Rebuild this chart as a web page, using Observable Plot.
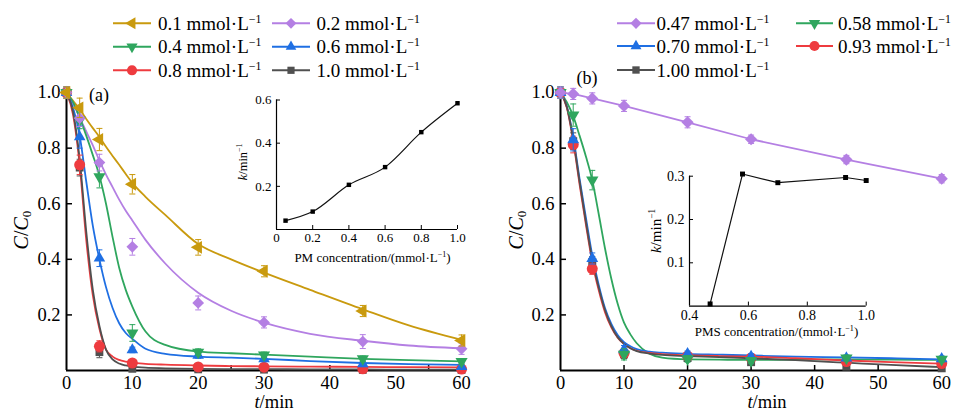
<!DOCTYPE html>
<html>
<head>
<meta charset="utf-8">
<script src="https://cdn.jsdelivr.net/npm/d3@7"></script>
<script src="https://cdn.jsdelivr.net/npm/@observablehq/plot@0.6"></script>
<style>
  body { margin: 0; background: #fff; }
  #chart { position: relative; width: 953px; height: 412px; background: #fff; overflow: hidden;
           font-family: "Liberation Serif", "Times New Roman", serif; color: #000; }
  #chart svg { position: absolute; left: 0; top: 0; }
  .lbl { position: absolute; white-space: nowrap; }
  .ctr { transform: translate(-50%, -50%); line-height: 1; }
  .rot { transform: translate(-50%, -50%) rotate(-90deg); line-height: 1; }
  sup { font-size: 0.62em; vertical-align: 0.6em; line-height: 0; }
  sub { font-size: 0.65em; vertical-align: -0.25em; line-height: 0; }
</style>
</head>
<body>
<div id="chart"></div>
<script>
// ---------- sampling times (min) ----------
const times = [0, 2, 5, 10, 20, 30, 45, 60];

// ---------- panel (a): PM dosage, measured C/C0 and error bars ----------
const pmLabels = ["0.1", "0.2", "0.4", "0.6", "0.8", "1.0"];
const a01 = [1.0, 0.945, 0.831, 0.67, 0.443, 0.357, 0.214, 0.108];
const a01Err = [0.02, 0.035, 0.04, 0.035, 0.028, 0.02, 0.02, 0.02];
const a02 = [1.0, 0.908, 0.748, 0.445, 0.243, 0.173, 0.104, 0.078];
const a02Err = [0.02, 0.03, 0.03, 0.03, 0.025, 0.02, 0.025, 0.02];
const a04 = [1.0, 0.9, 0.697, 0.135, 0.066, 0.056, 0.042, 0.032];
const a04Err = [0.02, 0.03, 0.04, 0.03, 0.012, 0.01, 0.01, 0.01];
const a06 = [1.0, 0.84, 0.404, 0.074, 0.054, 0.042, 0.024, 0.014];
const a06Err = [0.02, 0.04, 0.03, 0.01, 0.01, 0.01, 0.01, 0.01];
const a08 = [1.0, 0.74, 0.087, 0.027, 0.013, 0.012, 0.006, 0.005];
const a08Err = [0.02, 0.035, 0.02, 0.01, 0.01, 0.01, 0.01, 0.01];
const a10 = [1.0, 0.73, 0.066, 0.006, 0.004, 0.003, 0.002, 0.002];
const a10Err = [0.02, 0.03, 0.02, 0.01, 0.01, 0.01, 0.01, 0.01];

// fitted curves, panel (a)
const fitTimesA = [0, 1, 2, 3, 4, 5, 6, 7, 8, 9, 10, 12, 15, 20, 25, 30, 37, 45, 52, 60];
const a01Fit = [1, 0.97, 0.94, 0.905, 0.872, 0.84, 0.805, 0.772, 0.74, 0.707, 0.675, 0.625, 0.56, 0.455, 0.4, 0.352, 0.29, 0.22, 0.162, 0.11];
const a02Fit = [1, 0.96, 0.91, 0.86, 0.81, 0.755, 0.705, 0.66, 0.615, 0.575, 0.54, 0.47, 0.385, 0.28, 0.215, 0.172, 0.132, 0.107, 0.09, 0.08];
const a04Fit = [1, 0.965, 0.91, 0.845, 0.775, 0.7, 0.6, 0.48, 0.37, 0.29, 0.23, 0.14, 0.092, 0.068, 0.062, 0.057, 0.05, 0.042, 0.037, 0.033];
const a06Fit = [1, 0.945, 0.845, 0.68, 0.52, 0.4, 0.3, 0.225, 0.17, 0.135, 0.114, 0.078, 0.06, 0.05, 0.046, 0.042, 0.034, 0.027, 0.023, 0.02];
const a08Fit = [1, 0.92, 0.74, 0.47, 0.27, 0.15, 0.075, 0.05, 0.038, 0.032, 0.028, 0.024, 0.021, 0.018, 0.016, 0.015, 0.014, 0.013, 0.012, 0.011];
const a10Fit = [1, 0.93, 0.76, 0.5, 0.29, 0.16, 0.075, 0.04, 0.025, 0.018, 0.014, 0.01, 0.008, 0.006, 0.005, 0.005, 0.004, 0.004, 0.003, 0.003];

// inset (a): rate constant vs PM concentration
const pmConc = [0.05, 0.2, 0.4, 0.6, 0.8, 1.0];
const pmK = [0.041, 0.083, 0.207, 0.289, 0.451, 0.585];

// ---------- panel (b): PMS dosage ----------
const pmsLabels = ["0.47", "0.58", "0.70", "0.93", "1.00"];
const b047 = [1.0, 0.995, 0.979, 0.952, 0.893, 0.832, 0.759, 0.69];
const b047Err = [0.02, 0.02, 0.02, 0.02, 0.02, 0.015, 0.015, 0.015];
const b058 = [1.0, 0.919, 0.685, 0.058, 0.042, 0.036, 0.045, 0.04];
const b058Err = [0.02, 0.04, 0.035, 0.02, 0.012, 0.01, 0.01, 0.01];
const b070 = [1.0, 0.83, 0.403, 0.075, 0.06, 0.05, 0.045, 0.042];
const b070Err = [0.02, 0.04, 0.02, 0.015, 0.01, 0.01, 0.01, 0.01];
const b093 = [1.0, 0.813, 0.366, 0.062, 0.052, 0.045, 0.032, 0.025];
const b093Err = [0.02, 0.03, 0.02, 0.015, 0.01, 0.01, 0.01, 0.01];
const b100 = [1.0, 0.825, 0.39, 0.058, 0.045, 0.03, 0.014, 0.008];
const b100Err = [0.02, 0.03, 0.02, 0.015, 0.01, 0.01, 0.01, 0.01];

// fitted curves, panel (b)
const fitTimesB = [0, 1, 2, 3, 4, 5, 6, 7, 8, 9, 10, 11, 12, 14, 16, 20, 25, 30, 37, 45, 52, 60];
const b058Fit = [1, 0.965, 0.915, 0.845, 0.77, 0.685, 0.565, 0.44, 0.33, 0.24, 0.172, 0.13, 0.098, 0.06, 0.046, 0.04, 0.039, 0.038, 0.039, 0.04, 0.039, 0.038];
const b070Fit = [1, 0.95, 0.84, 0.69, 0.55, 0.414, 0.31, 0.225, 0.168, 0.128, 0.102, 0.087, 0.077, 0.068, 0.064, 0.06, 0.057, 0.054, 0.05, 0.047, 0.044, 0.04];
const b093Fit = [1, 0.945, 0.825, 0.67, 0.525, 0.39, 0.29, 0.21, 0.155, 0.118, 0.095, 0.08, 0.071, 0.063, 0.059, 0.055, 0.052, 0.05, 0.044, 0.036, 0.03, 0.025];
const b100Fit = [1, 0.948, 0.832, 0.68, 0.535, 0.4, 0.3, 0.218, 0.16, 0.12, 0.096, 0.08, 0.07, 0.061, 0.056, 0.052, 0.048, 0.044, 0.037, 0.028, 0.02, 0.012];

// inset (b): rate constant vs PMS concentration
const pmsConc = [0.47, 0.58, 0.70, 0.93, 1.00];
const pmsK = [0.005, 0.305, 0.285, 0.297, 0.29];

// ---------- axis tick values ----------
const yTickLabels = [0.2, 0.4, 0.6, 0.8, 1.0];
const xTickLabels = [0, 10, 20, 30, 40, 50, 60];
const xTicksA = [10, 25, 40, 55];
const xTicksB = [10, 20, 30, 40, 50, 60];
const insetAXLabels = [0, 0.2, 0.4, 0.6, 0.8, 1.0];
const insetAYLabels = [0.2, 0.4, 0.6];
const insetBXLabels = [0.4, 0.6, 0.8, 1.0];
const insetBYLabels = [0.1, 0.2, 0.3];

// ---------- style ----------
const gold = "#C99A0E", purple = "#B47FE3", green = "#2FA65E", blue = "#1F6FE3", red = "#EE3B3F", dark = "#505050";
const FONT = '"Liberation Serif", "Times New Roman", serif';
const W = 953, H = 412;

// marker shapes (same geometry as d3.symbolTriangle, rotated)
const S3 = Math.sqrt(3);
const triLeft = { draw(ctx, size) { const a = Math.sqrt(size / (S3 * 3)); ctx.moveTo(-2 * a, 0); ctx.lineTo(a, -S3 * a); ctx.lineTo(a, S3 * a); ctx.closePath(); } };
const triDown = { draw(ctx, size) { const a = Math.sqrt(size / (S3 * 3)); ctx.moveTo(0, 2 * a); ctx.lineTo(-S3 * a, -a); ctx.lineTo(S3 * a, -a); ctx.closePath(); } };
const capBar = { draw(ctx, size) { const h = Math.sqrt(size / Math.PI); ctx.moveTo(-h, 0); ctx.lineTo(h, 0); } };

const seriesA = [
  { label: pmLabels[0], vals: a01, errs: a01Err, fit: a01Fit, color: gold, symbol: triLeft, r: 4.8 },
  { label: pmLabels[1], vals: a02, errs: a02Err, fit: a02Fit, color: purple, symbol: d3.symbolDiamond2, r: 5.3 },
  { label: pmLabels[2], vals: a04, errs: a04Err, fit: a04Fit, color: green, symbol: triDown, r: 4.5 },
  { label: pmLabels[3], vals: a06, errs: a06Err, fit: a06Fit, color: blue, symbol: d3.symbolTriangle, r: 4.3 },
  { label: pmLabels[4], vals: a08, errs: a08Err, fit: a08Fit, color: red, symbol: d3.symbolCircle, r: 5.5 },
  { label: pmLabels[5], vals: a10, errs: a10Err, fit: a10Fit, color: dark, symbol: d3.symbolSquare, r: 4.4 }
];
const seriesB = [
  { label: pmsLabels[0], vals: b047, errs: b047Err, fit: null, color: purple, symbol: d3.symbolDiamond2, r: 5.5 },
  { label: pmsLabels[1], vals: b058, errs: b058Err, fit: b058Fit, color: green, symbol: triDown, r: 4.6 },
  { label: pmsLabels[2], vals: b070, errs: b070Err, fit: b070Fit, color: blue, symbol: d3.symbolTriangle, r: 4.4 },
  { label: pmsLabels[3], vals: b093, errs: b093Err, fit: b093Fit, color: red, symbol: d3.symbolCircle, r: 5.5 },
  { label: pmsLabels[4], vals: b100, errs: b100Err, fit: b100Fit, color: dark, symbol: d3.symbolSquare, r: 4.5 }
];

const chart = document.getElementById("chart");

function seriesMarks(s, fitTimes) {
  const pts = times.map((t, i) => ({ t, v: s.vals[i], e: s.errs[i] }));
  const curve = s.fit ? fitTimes.map((t, i) => ({ t, v: s.fit[i] })) : pts;
  return {
    line: Plot.line(curve, { x: "t", y: "v", stroke: s.color, strokeWidth: 1.8, curve: s.fit ? "monotone-x" : "linear" }),
    points: [
      Plot.ruleX(pts, { x: "t", y1: d => Math.max(0, d.v - d.e), y2: d => d.v + d.e, stroke: s.color, strokeWidth: 1 }),
      Plot.dot(pts, { x: "t", y: d => d.v + d.e, symbol: capBar, r: 3, stroke: s.color, strokeWidth: 1, fill: "none" }),
      Plot.dot(pts.filter(d => d.v - d.e > 0), { x: "t", y: d => d.v - d.e, symbol: capBar, r: 3, stroke: s.color, strokeWidth: 1, fill: "none" }),
      Plot.dot(pts, { x: "t", y: "v", symbol: s.symbol, r: s.r, fill: s.color, stroke: "none" })
    ]
  };
}

function mainPanel(series, fitTimes, xTicks, marginLeft, right) {
  const top = 86.5, bottom = 370;
  const frameW = right - marginLeft, frameH = bottom - top;
  const built = series.map(s => seriesMarks(s, fitTimes));
  const marks = [
    Plot.ruleX([0], { stroke: "#000", strokeWidth: 2 }),
    Plot.ruleY([0], { stroke: "#000", strokeWidth: 2 }),
    Plot.tickX(xTicks, { x: d => d, insetTop: frameH - 5, stroke: "#000", strokeWidth: 1.5 }),
    Plot.tickY(yTickLabels, { y: d => d, insetRight: frameW - 6, stroke: "#000", strokeWidth: 1.5 }),
    Plot.text(xTickLabels, { x: d => d, text: d => String(d), frameAnchor: "bottom", lineAnchor: "top", dy: 5, fontSize: 18.5 }),
    Plot.text(yTickLabels, { y: d => d, text: d => d.toFixed(1), frameAnchor: "left", textAnchor: "end", dx: -6, fontSize: 18.5 }),
    ...built.map(b => b.line),
    ...built.slice().reverse().flatMap(b => b.points)
  ];
  return Plot.plot({
    width: W, height: H,
    marginLeft, marginRight: W - right, marginTop: top, marginBottom: H - bottom,
    x: { domain: [0, 60.6], axis: null },
    y: { domain: [0, 1.02], axis: null },
    style: { background: "transparent", fontFamily: FONT, color: "#000", overflow: "visible" },
    marks
  });
}

function insetPanel(xs, ks, { left, right, top, bottom, xDomain, yDomain, xLabels, yLabels, xFmt, fontSize, pad, curve, r }) {
  const frameW = right - left, frameH = bottom - top;
  const pts = xs.map((x, i) => ({ x, k: ks[i] }));
  return Plot.plot({
    width: W, height: H,
    marginLeft: left, marginRight: W - right, marginTop: top, marginBottom: H - bottom,
    x: { domain: xDomain, axis: null },
    y: { domain: yDomain, axis: null },
    style: { background: "transparent", fontFamily: FONT, color: "#000", overflow: "visible" },
    marks: [
      Plot.ruleX([xDomain[0]], { stroke: "#000", strokeWidth: 1.2 }),
      Plot.ruleY([yDomain[0]], { stroke: "#000", strokeWidth: 1.2 }),
      Plot.tickX(xLabels.slice(1), { x: d => d, insetTop: frameH - 4, stroke: "#000" }),
      Plot.tickY(yLabels, { y: d => d, insetRight: frameW - 4, stroke: "#000" }),
      Plot.text(xLabels, { x: d => d, text: xFmt, frameAnchor: "bottom", lineAnchor: "top", dy: pad, fontSize }),
      Plot.text(yLabels, { y: d => d, text: d => d.toFixed(1), frameAnchor: "left", textAnchor: "end", dx: -5, fontSize }),
      Plot.line(pts, { x: "x", y: "k", stroke: "#111", strokeWidth: 1.2, curve }),
      Plot.dot(pts, { x: "x", y: "k", symbol: "square", r, fill: "#000", stroke: "none" })
    ]
  });
}

chart.appendChild(mainPanel(seriesA, fitTimesA, xTicksA, 66, 465));
chart.appendChild(mainPanel(seriesB, fitTimesB, xTicksB, 560, 945));

chart.appendChild(insetPanel(pmConc, pmK, {
  left: 276, right: 457, top: 99.5, bottom: 229, xDomain: [0, 1], yDomain: [0, 0.6],
  xLabels: insetAXLabels, yLabels: insetAYLabels, xFmt: d => (d === 0 ? "0" : d.toFixed(1)),
  fontSize: 13, pad: 3, curve: "monotone-x", r: 2.5
}));
chart.appendChild(insetPanel(pmsConc, pmsK, {
  left: 689, right: 865.7, top: 175.7, bottom: 305.6, xDomain: [0.4, 1.0], yDomain: [0, 0.3],
  xLabels: insetBXLabels, yLabels: insetBYLabels, xFmt: d => d.toFixed(1),
  fontSize: 14, pad: 4, curve: "linear", r: 2.8
}));

// ---------- legends ----------
const legendSvg = d3.select(chart).append("svg").attr("width", W).attr("height", H);
function legendEntry(s, x1, x2, y, tx) {
  legendSvg.append("line").attr("x1", x1).attr("x2", x2).attr("y1", y).attr("y2", y)
    .attr("stroke", s.color).attr("stroke-width", 2);
  legendSvg.append("path").attr("d", d3.symbol(s.symbol, Math.PI * s.r * s.r * 0.85)())
    .attr("transform", `translate(${(x1 + x2) / 2},${y})`).attr("fill", s.color);
  const div = document.createElement("div");
  div.className = "lbl";
  div.style.left = tx + "px";
  div.style.top = (y - 11.5) + "px";
  div.style.fontSize = "19px";
  div.style.lineHeight = "23px";
  div.innerHTML = `${s.label} mmol·L<sup>−1</sup>`;
  chart.appendChild(div);
}
const rowsA = [23.3, 46.7, 70.3];
seriesA.forEach((s, i) => {
  const col = i % 2, row = Math.floor(i / 2);
  if (col === 0) legendEntry(s, 113, 151, rowsA[row], 158);
  else legendEntry(s, 272, 310, rowsA[row], 316.5);
});
const rowsB = [23.3, 46, 70];
seriesB.forEach((s, i) => {
  const col = i % 2, row = Math.floor(i / 2);
  if (col === 0) legendEntry(s, 617, 655, rowsB[row], 656.5);
  else legendEntry(s, 796, 833, rowsB[row], 838);
});

// ---------- titles and panel tags ----------
function label(html, x, y, size, cls) {
  const div = document.createElement("div");
  div.className = "lbl " + cls;
  div.style.left = x + "px";
  div.style.top = y + "px";
  div.style.fontSize = size + "px";
  div.innerHTML = html;
  chart.appendChild(div);
}
label("(a)", 99, 95, 18, "ctr");
label("(b)", 587, 78, 18, "ctr");
label("<i>C</i>/<i>C</i><sub>0</sub>", 21, 230, 20, "rot");
label("<i>C</i>/<i>C</i><sub>0</sub>", 516, 230, 20, "rot");
label("<i>t</i>/min", 274, 402.2, 18.5, "ctr");
label("<i>t</i>/min", 767, 402.2, 18.5, "ctr");
label("PM concentration/(mmol·L<sup>−1</sup>)", 372.5, 256.5, 13, "ctr");
label("PMS concentration/(mmol·L<sup>−1</sup>)", 776.5, 331, 13, "ctr");
label("<i>k</i>/min<sup>−1</sup>", 243, 161.5, 12.5, "rot");
label("<i>k</i>/min<sup>−1</sup>", 656, 230.5, 15, "rot");
</script>
</body>
</html>
